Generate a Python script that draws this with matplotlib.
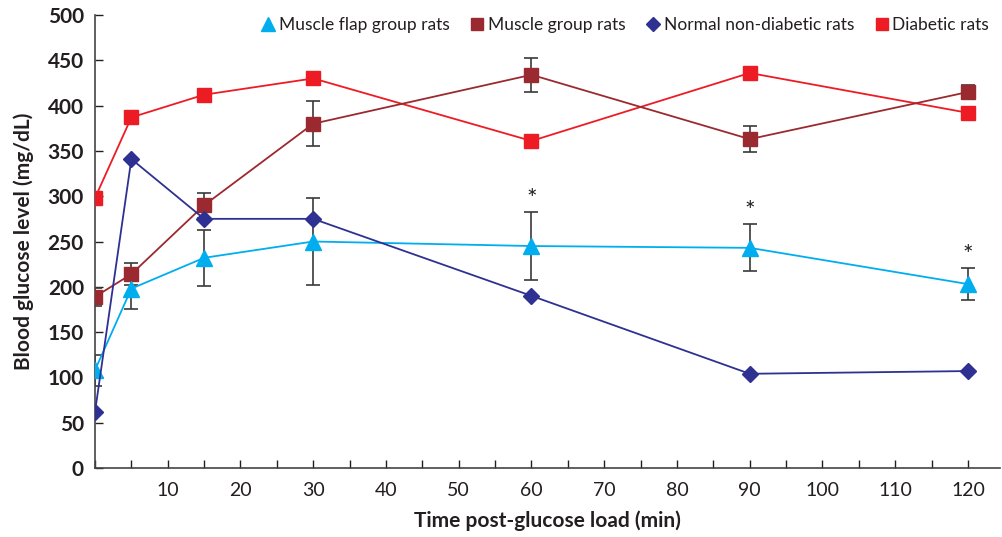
import matplotlib
matplotlib.use("Agg")
import matplotlib.pyplot as plt
from matplotlib.ticker import MultipleLocator

plt.rcParams['font.family'] = ['Lato', 'DejaVu Sans']

# time points (min)
times = [0, 5, 15, 30, 60, 90, 120]

# series values (mg/dL)
flap = [108, 198, 232, 250, 245, 243, 203]
flap_err = [17, 23, 31, 48, 38, 26, 18]
muscle = [189, 214, 290, 380, 434, 363, 415]
muscle_err = [10, 12, 14, 25, 19, 14, 8]
normal = [62, 341, 275, 275, 190, 104, 107]
diabetic = [298, 387, 412, 430, 361, 436, 392]

# asterisks for flap group
star_times = [60, 90, 120]

c_flap = '#00AEEF'
c_muscle = '#9B2A30'
c_normal = '#2E3192'
c_diab = '#ED1C24'
c_err = '#3a3a3a'
c_text = '#231F20'

fig = plt.figure(figsize=(10.03, 5.37), dpi=100)
ax = fig.add_axes([95/1003, 69/537, 905/1003, 453/537])

ax.errorbar(times, muscle, yerr=muscle_err, fmt='none', ecolor=c_err,
            elinewidth=1.2, capsize=5, capthick=1.2, zorder=2)
ax.errorbar(times, flap, yerr=flap_err, fmt='none', ecolor=c_err,
            elinewidth=1.2, capsize=5, capthick=1.2, zorder=2)

ax.plot(times, flap, color=c_flap, lw=1.3, marker='^', ms=11,
        label='Muscle flap group rats', zorder=4)
ax.plot(times, muscle, color=c_muscle, lw=1.3, marker='s', ms=10,
        label='Muscle group rats', zorder=3.5)
ax.plot(times, normal, color=c_normal, lw=1.3, marker='D', ms=8,
        label='Normal non-diabetic rats', zorder=5)
ax.plot(times, diabetic, color=c_diab, lw=1.3, marker='s', ms=10,
        label='Diabetic rats', zorder=3)

for t in star_times:
    i = times.index(t)
    ax.text(t, flap[i] + flap_err[i] + 1, '*', ha='center', va='bottom',
            fontsize=18, color=c_text)

ax.set_xlim(0, 124.4)
ax.set_ylim(0, 500)
ax.xaxis.set_minor_locator(MultipleLocator(5))
ax.yaxis.set_major_locator(MultipleLocator(50))
ax.set_xticks(range(10, 121, 10))
ax.tick_params(axis='x', which='both', direction='in', length=6, width=1,
               colors=c_text, labelsize=14, pad=10)
ax.tick_params(axis='y', which='major', direction='in', length=6, width=1,
               colors=c_text, labelsize=15, pad=8)
for lab in ax.get_yticklabels():
    lab.set_fontweight('bold')

for s in ['top', 'right']:
    ax.spines[s].set_visible(False)
for s in ['left', 'bottom']:
    ax.spines[s].set_color('#444444')
    ax.spines[s].set_linewidth(1.2)

ax.set_xlabel('Time post-glucose load (min)', fontsize=15, color=c_text,
              fontweight='bold', labelpad=8)
ax.set_ylabel('Blood glucose level (mg/dL)', fontsize=15, color=c_text,
              fontweight='bold', labelpad=10)

handles, labels = ax.get_legend_handles_labels()
handles = [plt.Line2D([], [], ls='none', marker=h.get_marker(), color=h.get_color(),
                      ms=h.get_markersize() * 0.9) for h in handles]
ax.legend(handles, labels, loc='upper right', bbox_to_anchor=(1.005, 1.03), ncol=4,
          frameon=False, fontsize=12.5, handlelength=0.6, handletextpad=0.3,
          columnspacing=1.3, labelcolor=c_text)

fig.savefig('out.png', dpi=100)
